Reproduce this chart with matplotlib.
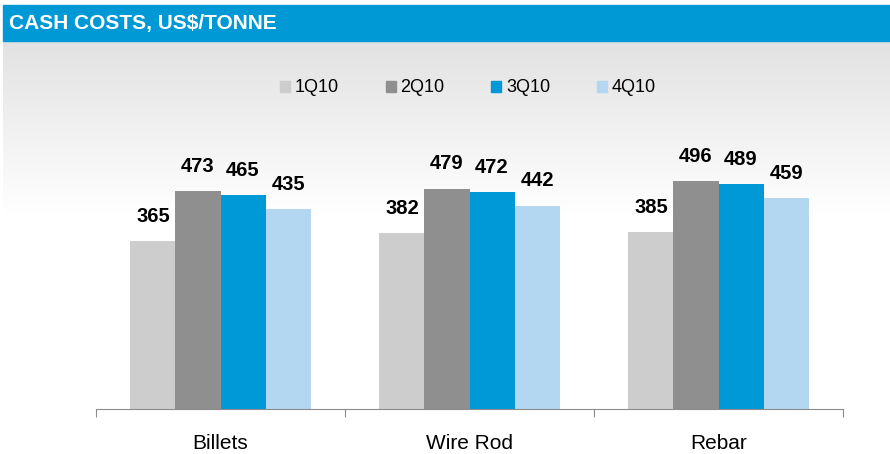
import numpy as np
import matplotlib
matplotlib.use("Agg")
from matplotlib import pyplot as plt
from matplotlib.patches import Rectangle

plt.rcParams['font.family'] = ['Liberation Sans', 'DejaVu Sans']

categories = ['Billets', 'Wire Rod', 'Rebar']
quarters = ['1Q10', '2Q10', '3Q10', '4Q10']
q1 = [365, 382, 385]
q2 = [473, 479, 496]
q3 = [465, 472, 489]
q4 = [435, 442, 459]
colors = ['#cdcdcd', '#8f8f8f', '#0099d8', '#b3d7f0']

fig = plt.figure(figsize=(8.9, 4.54), dpi=100)

# background: grey-to-white gradient under the title bar
bg = fig.add_axes([0, 0, 1, 1], zorder=0)
bg.set_xlim(0, 890)
bg.set_ylim(454, 0)
bg.axis('off')
grad = np.linspace(0, 1, 200).reshape(-1, 1)
shade = 0.886 + (1 - 0.886) * grad
img = np.dstack([shade, shade, shade])
bg.imshow(img, extent=[3, 890, 215, 41], aspect='auto')
bg.add_patch(Rectangle((3, 5), 887, 36, color='#0099d6'))
bg.text(9, 23, 'CASH COSTS, US$/TONNE', color='white', fontsize=15,
        fontweight='bold', va='center', ha='left')

ax = fig.add_axes([96 / 890, 1 - 409 / 454, (843 - 96) / 890, 276 / 454], zorder=1)
ax.patch.set_alpha(0)
x = np.arange(len(categories))
w = 0.181
series = [q1, q2, q3, q4]
for i, (vals, c, lab) in enumerate(zip(series, colors, quarters)):
    bars = ax.bar(x + (i - 1.5) * w, vals, w, color=c, label=lab)
    ax.bar_label(bars, padding=11, fontsize=14.5, fontweight='bold')

ax.set_xlim(-0.5, 2.5)
ax.set_ylim(0, 600)
for s in ['top', 'right', 'left']:
    ax.spines[s].set_visible(False)
ax.spines['bottom'].set_color('#8c8c8c')
ax.set_yticks([])
ax.set_xticks([-0.5, 0.5, 1.5, 2.5])
ax.set_xticklabels([])
ax.set_xticks(x, minor=True)
ax.set_xticklabels(categories, minor=True, fontsize=15)
ax.tick_params(axis='x', which='major', length=6, color='#8c8c8c', direction='out')
ax.tick_params(axis='x', which='minor', length=0, pad=18)

handles = [Rectangle((0, 0), 1, 1, color=c) for c in colors]
fig.legend(handles, quarters, loc='center', bbox_to_anchor=(468 / 890, 1 - 88 / 454),
           ncol=4, frameon=False, fontsize=13, handlelength=0.55, handleheight=0.55,
           handletextpad=0.25, columnspacing=2.6)

fig.savefig('out.png', dpi=100)
